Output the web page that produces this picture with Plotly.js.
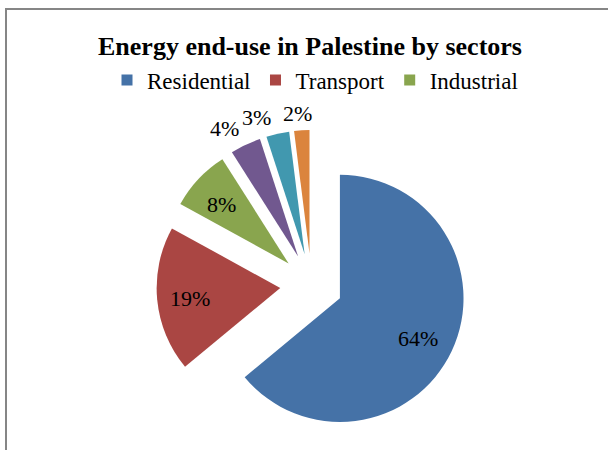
<!DOCTYPE html>
<html>
<head>
<meta charset="utf-8">
<script src="https://cdn.plot.ly/plotly-3.0.1.min.js"></script>
<style>
  html, body { margin: 0; padding: 0; background: #ffffff; }
  #chart { width: 608px; height: 450px; }
</style>
</head>
<body>
<div id="chart"></div>
<script>
// ---- data ----
const sectors = ["Residential", "Transport", "Industrial", "Commercial", "Agriculture", "Others"];
const shares = [64, 19, 8, 4, 3, 2];
const legendSectors = ["Residential", "Transport", "Industrial"];
const sliceColors = ["#4572A7", "#AA4643", "#89A54E", "#71588F", "#4198AF", "#DB843D"];
const labelPositions = ["inside", "inside", "inside", "outside", "outside", "outside"];
const chartTitle = "Energy end-use in Palestine by sectors";

const W = 608, H = 450;
const margin = { l: 20, r: 5, t: 130, b: 10, pad: 0 };
const plotW = W - margin.l - margin.r;
const plotH = H - margin.t - margin.b;
const serif = "Liberation Serif, Times New Roman, serif";
const PULL = 0.254;

const pieTrace = {
  type: "pie",
  labels: sectors,
  values: shares,
  sort: false,
  direction: "clockwise",
  rotation: 0,
  pull: shares.map(() => PULL),
  marker: { colors: sliceColors, line: { width: 0 } },
  textinfo: "none",
  showlegend: false,
  hoverinfo: "label+percent"
};

const legendTraces = legendSectors.map((name) => {
  const i = sectors.indexOf(name);
  return {
    type: "scatter",
    mode: "markers",
    x: [null],
    y: [null],
    name: name,
    marker: { symbol: "square", size: 11, color: sliceColors[i], line: { width: 0 } },
    showlegend: true,
    hoverinfo: "skip"
  };
});

// paper-coordinate helpers
const px = (x) => (x - margin.l) / plotW;
const py = (y) => 1 - (y - margin.t) / plotH;

// pie geometry (same rule as Plotly: radius shrinks to leave room for the pull)
const cx = margin.l + plotW / 2;
const cy = margin.t + plotH / 2;
const R = Math.min(plotW, plotH) / 2 / (1 + PULL);
const total = shares.reduce((a, b) => a + b, 0);

const labelAnnotations = [];
let cum = 0;
shares.forEach((v, i) => {
  const mid = (cum + v / 2) / total * 2 * Math.PI; // clockwise from 12 o'clock
  cum += v;
  const dx = Math.sin(mid), dy = -Math.cos(mid);
  const vx = cx + dx * PULL * R, vy = cy + dy * PULL * R;
  const pct = Math.round(v / total * 100) + "%";
  let ann;
  if (labelPositions[i] === "inside") {
    ann = { x: px(vx + dx * 0.72 * R - 2), y: py(vy + dy * 0.72 * R + 2), xanchor: "center", yanchor: "middle" };
  } else {
    const d = R + 2;
    ann = {
      x: px(vx + dx * d - 4), y: py(vy + dy * d),
      xanchor: Math.abs(dx) < 0.15 ? "center" : (dx < 0 ? "right" : "left"),
      yanchor: Math.abs(dy) < 0.15 ? "middle" : (dy < 0 ? "bottom" : "top")
    };
  }
  labelAnnotations.push(Object.assign(ann, {
    xref: "paper", yref: "paper", text: pct, showarrow: false,
    font: { family: serif, size: 22, color: "#000000" }
  }));
});

const layout = {
  width: W,
  height: H,
  margin: margin,
  paper_bgcolor: "#ffffff",
  plot_bgcolor: "#ffffff",
  title: {
    text: "<b>" + chartTitle + "</b>",
    font: { family: serif, size: 26, color: "#000000" },
    x: 310 / W,
    xref: "container",
    xanchor: "center",
    y: 1 - 46 / H,
    yref: "container",
    yanchor: "middle"
  },
  legend: {
    orientation: "h",
    x: 315 / W,
    xref: "container",
    xanchor: "center",
    y: 1 - 80 / H,
    yref: "container",
    yanchor: "middle",
    font: { family: serif, size: 23, color: "#000000" },
    bgcolor: "rgba(0,0,0,0)"
  },
  xaxis: { visible: false },
  yaxis: { visible: false },
  annotations: labelAnnotations,
  shapes: [
    { type: "line", xref: "paper", yref: "paper", x0: px(6), x1: px(6), y0: py(8), y1: py(460),
      line: { color: "#868686", width: 2 } },
    { type: "line", xref: "paper", yref: "paper", x0: px(5), x1: px(620), y0: py(9), y1: py(9),
      line: { color: "#868686", width: 2 } }
  ],
  showlegend: true
};

Plotly.newPlot("chart", [pieTrace].concat(legendTraces), layout, { displayModeBar: false, staticPlot: true });
</script>
</body>
</html>
